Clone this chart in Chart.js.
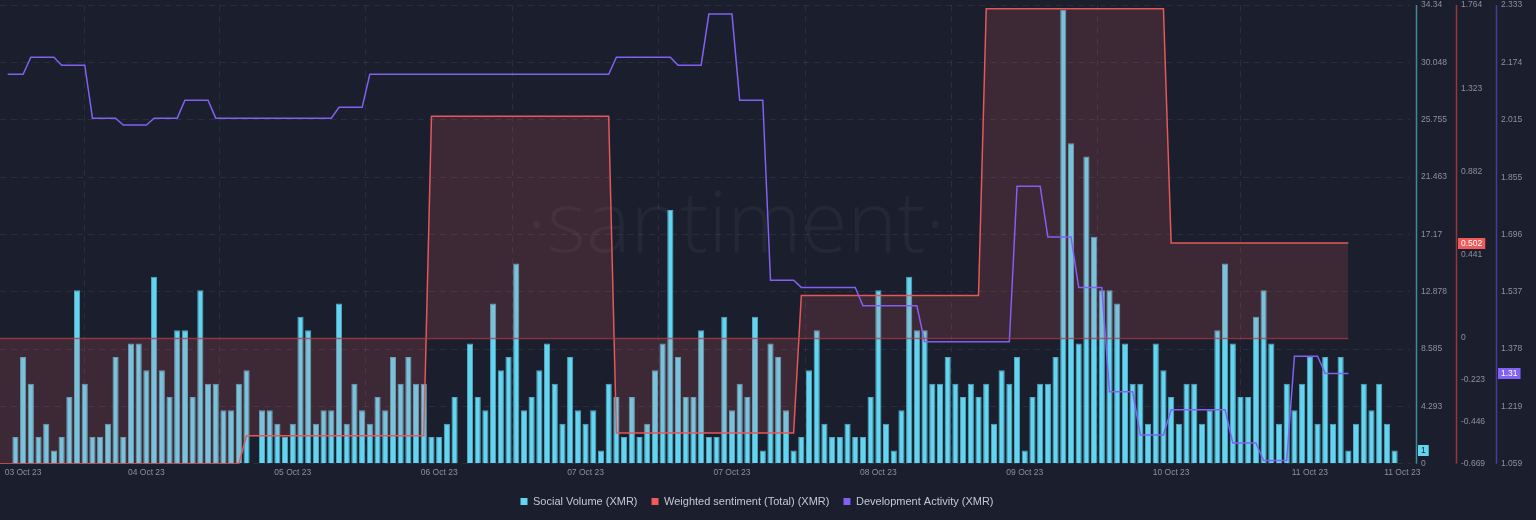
<!DOCTYPE html>
<html>
<head>
<meta charset="utf-8">
<script src="https://cdn.jsdelivr.net/npm/chart.js@4"></script>
<style>
  html, body { margin: 0; padding: 0; background: #1b1e2c; }
  #wrap { width: 1536px; height: 520px; position: relative; }
</style>
</head>
<body>
<div id="wrap"><canvas id="chart" width="1536" height="520"></canvas></div>
<script>
// ---- data (hourly slots, first two slots before the first bar) ----
const slotCount = 184;
const slots = Array.from({ length: slotCount }, (_, i) => i);

// Social Volume (XMR)
const socialVolume = [
  null, null,
  2, 8, 6, 2, 3, 1, 2, 5, 13, 6, 2, 2, 3, 8, 2, 9, 9, 7, 14, 7, 5, 10, 10, 5, 13, 6, 6, 4, 4, 6, 7,
  0,
  4, 4, 3, 2, 3, 11, 10, 3, 4, 4, 12, 3, 6, 4, 3, 5, 4, 8, 6, 8, 6, 6, 2, 2, 3, 5, 0, 9, 5, 4, 12, 7,
  8, 15, 4, 5, 7, 9, 6, 3, 8, 4, 3, 4, 1, 6, 5, 2, 5, 2, 3, 7, 9, 19, 8, 5, 5, 10, 2, 2, 11, 4, 6, 5, 11, 1, 9, 8, 4, 1, 2, 7, 10, 3, 2, 2, 3,
  2, 2, 5, 13, 3, 1, 4, 14, 10, 10, 6, 6, 8, 6, 5, 6, 5, 6, 3, 7, 6, 8, 1, 5, 6, 6, 8, 34, 24, 9, 23, 17, 13, 13, 12, 9, 6, 6, 3, 9, 7, 5, 3, 6, 6, 3,
  4, 10, 15, 9, 5, 5, 11, 13, 9, 3, 6, 4, 6, 8, 3, 8, 3, 8, 1, 3, 6, 4, 6, 3, 1,
  null, null
];

// Weighted sentiment (Total) (XMR)
const sentiment = [
  -0.669, -0.669, -0.669, -0.669, -0.669, -0.669, -0.669, -0.669,
  -0.669, -0.669, -0.669, -0.669, -0.669, -0.669, -0.669, -0.669,
  -0.669, -0.669, -0.669, -0.669, -0.669, -0.669, -0.669, -0.669,
  -0.669, -0.669, -0.669, -0.669, -0.669, -0.669, -0.669, -0.669,
  -0.52, -0.52, -0.52, -0.52, -0.52, -0.52, -0.52, -0.52, -0.52, -0.52, -0.52, -0.52,
  -0.52, -0.52, -0.52, -0.52, -0.52, -0.52, -0.52, -0.52, -0.52, -0.52, -0.52, -0.52,
  1.175, 1.175, 1.175, 1.175, 1.175, 1.175, 1.175, 1.175, 1.175, 1.175, 1.175, 1.175,
  1.175, 1.175, 1.175, 1.175, 1.175, 1.175, 1.175, 1.175, 1.175, 1.175, 1.175, 1.175,
  -0.506, -0.506, -0.506, -0.506, -0.506, -0.506, -0.506, -0.506, -0.506, -0.506, -0.506, -0.506,
  -0.506, -0.506, -0.506, -0.506, -0.506, -0.506, -0.506, -0.506, -0.506, -0.506, -0.506, -0.506,
  0.224, 0.224, 0.224, 0.224, 0.224, 0.224, 0.224, 0.224, 0.224, 0.224, 0.224, 0.224,
  0.224, 0.224, 0.224, 0.224, 0.224, 0.224, 0.224, 0.224, 0.224, 0.224, 0.224, 0.224,
  1.745, 1.745, 1.745, 1.745, 1.745, 1.745, 1.745, 1.745, 1.745, 1.745, 1.745, 1.745,
  1.745, 1.745, 1.745, 1.745, 1.745, 1.745, 1.745, 1.745, 1.745, 1.745, 1.745, 1.745,
  0.502, 0.502, 0.502, 0.502, 0.502, 0.502, 0.502, 0.502, 0.502, 0.502, 0.502, 0.502,
  0.502, 0.502, 0.502, 0.502, 0.502, 0.502, 0.502, 0.502, 0.502, 0.502, 0.502, 0.502
];

// Development Activity (XMR)
const devActivity = [
  null,
  2.141, 2.141, 2.141,
  2.188, 2.188, 2.188, 2.188,
  2.166, 2.166, 2.166, 2.166,
  2.019, 2.019, 2.019, 2.019,
  2.0, 2.0, 2.0, 2.0,
  2.019, 2.019, 2.019, 2.019,
  2.069, 2.069, 2.069, 2.069,
  2.019, 2.019, 2.019, 2.019, 2.019, 2.019, 2.019, 2.019,
  2.019, 2.019, 2.019, 2.019, 2.019, 2.019, 2.019, 2.019,
  2.049, 2.049, 2.049, 2.049,
  2.141, 2.141, 2.141, 2.141, 2.141, 2.141, 2.141, 2.141,
  2.141, 2.141, 2.141, 2.141, 2.141, 2.141, 2.141, 2.141,
  2.141, 2.141, 2.141, 2.141, 2.141, 2.141, 2.141, 2.141,
  2.141, 2.141, 2.141, 2.141, 2.141, 2.141, 2.141, 2.141,
  2.188, 2.188, 2.188, 2.188, 2.188, 2.188, 2.188, 2.188,
  2.166, 2.166, 2.166, 2.166,
  2.308, 2.308, 2.308, 2.308,
  2.069, 2.069, 2.069, 2.069,
  1.569, 1.569, 1.569, 1.569,
  1.549, 1.549, 1.549, 1.549, 1.549, 1.549, 1.549, 1.549,
  1.498, 1.498, 1.498, 1.498, 1.498, 1.498, 1.498, 1.498,
  1.398, 1.398, 1.398, 1.398, 1.398, 1.398, 1.398, 1.398, 1.398, 1.398, 1.398, 1.398,
  1.83, 1.83, 1.83, 1.83,
  1.689, 1.689, 1.689, 1.689,
  1.549, 1.549, 1.549, 1.549,
  1.259, 1.259, 1.259, 1.259,
  1.139, 1.139, 1.139, 1.139,
  1.209, 1.209, 1.209, 1.209, 1.209, 1.209, 1.209, 1.209,
  1.117, 1.117, 1.117, 1.117,
  1.068, 1.068, 1.068, 1.068,
  1.358, 1.358, 1.358, 1.358,
  1.31, 1.31, 1.31, 1.31
];

// Tick labels
const xTickIndex  = [3, 19, 38, 57, 76, 95, 114, 133, 152, 170, 182];
const xTickLabels = ["03 Oct 23", "04 Oct 23", "05 Oct 23", "06 Oct 23", "07 Oct 23", "07 Oct 23",
                     "08 Oct 23", "09 Oct 23", "10 Oct 23", "11 Oct 23", "11 Oct 23"];
const socialTicks    = ["0", "4.293", "8.585", "12.878", "17.17", "21.463", "25.755", "30.048", "34.34"];
const sentimentTicks = ["-0.669", "-0.446", "-0.223", "0", "0.441", "0.882", "1.323", "1.764"];
const devTicks       = ["1.059", "1.219", "1.378", "1.537", "1.696", "1.855", "2.015", "2.174", "2.333"];

const seriesNames  = ["Social Volume (XMR)", "Weighted sentiment (Total) (XMR)", "Development Activity (XMR)"];
const seriesColors = ["#62d6f0", "#f05a5a", "#8160f2"];


// ============================================================
//  HELPERS
// ============================================================
const TICK_COLOR = "#8b90a3";
const TICK_FONT  = { family: "'Liberation Sans', Arial, sans-serif", size: 8.5 };

function fixedTicks(labels) {
  return function (scale) {
    scale.ticks = labels.map(function (l) { return { value: parseFloat(l) }; });
  };
}

function lastValue(arr) {
  for (var i = arr.length - 1; i >= 0; i--) {
    if (arr[i] !== null) return arr[i];
  }
  return null;
}

// right axis: labels pushed 11px out with an invisible tick mark
// (ticks.padding would also pad the chart area top)
function rightAxis(extra) {
  return Object.assign({
    position: "right",
    border: { display: false },
    grid: { drawOnChartArea: false, drawTicks: true, tickLength: 11, tickColor: "rgba(0,0,0,0)" },
    ticks: { padding: 0, color: TICK_COLOR, font: TICK_FONT }
  }, extra);
}


// ============================================================
//  PLUGINS
// ============================================================
const watermark = {
  id: "watermark",
  beforeDatasetsDraw(chart) {
    const ctx = chart.ctx;
    ctx.save();
    ctx.font = "300 84px 'Open Sans', sans-serif";
    ctx.fillStyle = "rgba(255,255,255,0.045)";
    ctx.textAlign = "center";
    ctx.textBaseline = "alphabetic";
    ctx.fillText("\u00B7santiment\u00B7", 736, 252);
    ctx.restore();
  }
};

// legend sits a little left of the canvas centre in the original
const legendShift = {
  id: "legendShift",
  afterLayout(chart) {
    if (!chart.legend) return;
    chart.legend.left  -= 11;
    chart.legend.right -= 11;
  }
};

// sentiment zero line (only where the sentiment series runs)
const zeroLine = {
  id: "zeroLine",
  afterDatasetsDraw(chart) {
    const ctx = chart.ctx;
    const x = chart.scales.x;
    const y1 = chart.scales.y1;
    const yy = Math.round(y1.getPixelForValue(0)) + 0.5;
    ctx.save();
    ctx.strokeStyle = "rgba(170,62,72,0.75)";
    ctx.lineWidth = 1.5;
    ctx.beginPath();
    ctx.moveTo(chart.chartArea.left, yy);
    ctx.lineTo(x.getPixelForValue(sentiment.length - 1), yy);
    ctx.stroke();
    ctx.restore();
  }
};

// coloured axis lines + last value boxes
const axisDecor = {
  id: "axisDecor",
  afterDraw(chart) {
    const ctx = chart.ctx;
    const area = chart.chartArea;
    const axes = [
      { id: "y",  line: "#3c8a9a", box: "#62d6f0", text: "#1b1e2c", value: lastValue(socialVolume), label: String(lastValue(socialVolume)) },
      { id: "y1", line: "#93383f", box: "#ef5a5a", text: "#ffffff", value: lastValue(sentiment), label: String(lastValue(sentiment)) },
      { id: "y2", line: "#4b3a9e", box: "#8262f5", text: "#ffffff", value: lastValue(devActivity), label: String(lastValue(devActivity)) }
    ];
    ctx.save();
    axes.forEach(function (a) {
      const s = chart.scales[a.id];
      const lx = Math.round(s.left + 6) + 0.5;
      ctx.strokeStyle = a.line;
      ctx.lineWidth = 1.5;
      ctx.beginPath();
      ctx.moveTo(lx, area.top);
      ctx.lineTo(lx, area.bottom);
      ctx.stroke();

      ctx.font = "8.5px 'Liberation Sans', Arial, sans-serif";
      const w = ctx.measureText(a.label).width + 6;
      const cy = s.getPixelForValue(a.value);
      ctx.fillStyle = a.box;
      ctx.fillRect(s.left + 8, Math.round(cy - 5.5), w, 11);
      ctx.fillStyle = a.text;
      ctx.textBaseline = "middle";
      ctx.textAlign = "left";
      ctx.fillText(a.label, s.left + 11, cy + 0.5);
    });
    ctx.restore();
  }
};


// ============================================================
//  CHART
// ============================================================
const chart = new Chart(document.getElementById("chart"), {
  data: {
    labels: slots,
    datasets: [
      {
        type: "line",
        label: seriesNames[2],
        data: devActivity,
        yAxisID: "y2",
        borderColor: seriesColors[2],
        borderWidth: 1.5,
        pointRadius: 0,
        tension: 0,
        fill: false,
        order: 0
      },
      {
        type: "line",
        label: seriesNames[1],
        data: sentiment,
        yAxisID: "y1",
        borderColor: "#e5585a",
        backgroundColor: "rgba(240,95,105,0.16)",
        borderWidth: 1.5,
        pointRadius: 0,
        tension: 0,
        fill: "origin",
        order: 1
      },
      {
        type: "bar",
        label: seriesNames[0],
        data: socialVolume,
        yAxisID: "y",
        backgroundColor: seriesColors[0],
        borderColor: "rgba(88,168,192,1)",
        borderWidth: 1,
        barPercentage: 0.8,
        categoryPercentage: 1,
        order: 3
      }
    ]
  },
  options: {
    responsive: false,
    animation: false,
    layout: { padding: { top: 0, left: 0, right: 0, bottom: 3 } },
    plugins: {
      tooltip: { enabled: false },
      legend: {
        position: "bottom",
        reverse: true,
        labels: {
          boxWidth: 7,
          boxHeight: 7,
          padding: 14,
          color: "#c4c8d4",
          font: { family: "'Liberation Sans', Arial, sans-serif", size: 11 },
          generateLabels: function (c) {
            return c.data.datasets.map(function (ds, i) {
              const idx = seriesNames.indexOf(ds.label);
              return {
                text: ds.label,
                fillStyle: seriesColors[idx],
                strokeStyle: seriesColors[idx],
                lineWidth: 0,
                fontColor: "#c4c8d4",
                datasetIndex: i
              };
            });
          }
        }
      }
    },
    scales: {
      x: {
        type: "category",
        offset: false,
        border: { display: false, dash: [6, 5] },
        grid: {
          drawTicks: false,
          color: function (ctx) {
            if (ctx.index === 0 || ctx.index === xTickIndex.length - 1) return "rgba(0,0,0,0)";
            return "rgba(255,255,255,0.07)";
          }
        },
        afterBuildTicks: function (scale) {
          scale.ticks = xTickIndex.map(function (v) { return { value: v }; });
        },
        ticks: {
          autoSkip: false,
          maxRotation: 0,
          padding: 4,
          color: TICK_COLOR,
          font: TICK_FONT,
          callback: function (v, i) { return xTickLabels[i]; }
        }
      },
      y: rightAxis({
        weight: 0,
        min: 0,
        max: 34.34,
        border: { display: false, dash: [6, 5] },
        grid: { drawOnChartArea: true, drawTicks: true, tickLength: 11, tickColor: "rgba(0,0,0,0)", color: "rgba(255,255,255,0.07)" },
        afterBuildTicks: fixedTicks(socialTicks),
        afterFit: function (s) { s.width = 40; },
        ticks: { padding: 0, color: TICK_COLOR, font: TICK_FONT, callback: function (v, i) { return socialTicks[i]; } }
      }),
      y1: rightAxis({
        weight: 1,
        min: -0.669,
        max: 1.764,
        afterBuildTicks: fixedTicks(sentimentTicks),
        afterFit: function (s) { s.width = 40; },
        ticks: { padding: 0, color: TICK_COLOR, font: TICK_FONT, callback: function (v, i) { return sentimentTicks[i]; } }
      }),
      y2: rightAxis({
        weight: 2,
        min: 1.059,
        max: 2.333,
        afterBuildTicks: fixedTicks(devTicks),
        afterFit: function (s) { s.width = 46; },
        ticks: { padding: 0, color: TICK_COLOR, font: TICK_FONT, callback: function (v, i) { return devTicks[i]; } }
      })
    }
  },
  plugins: [watermark, legendShift, zeroLine, axisDecor]
});
</script>
</body>
</html>
